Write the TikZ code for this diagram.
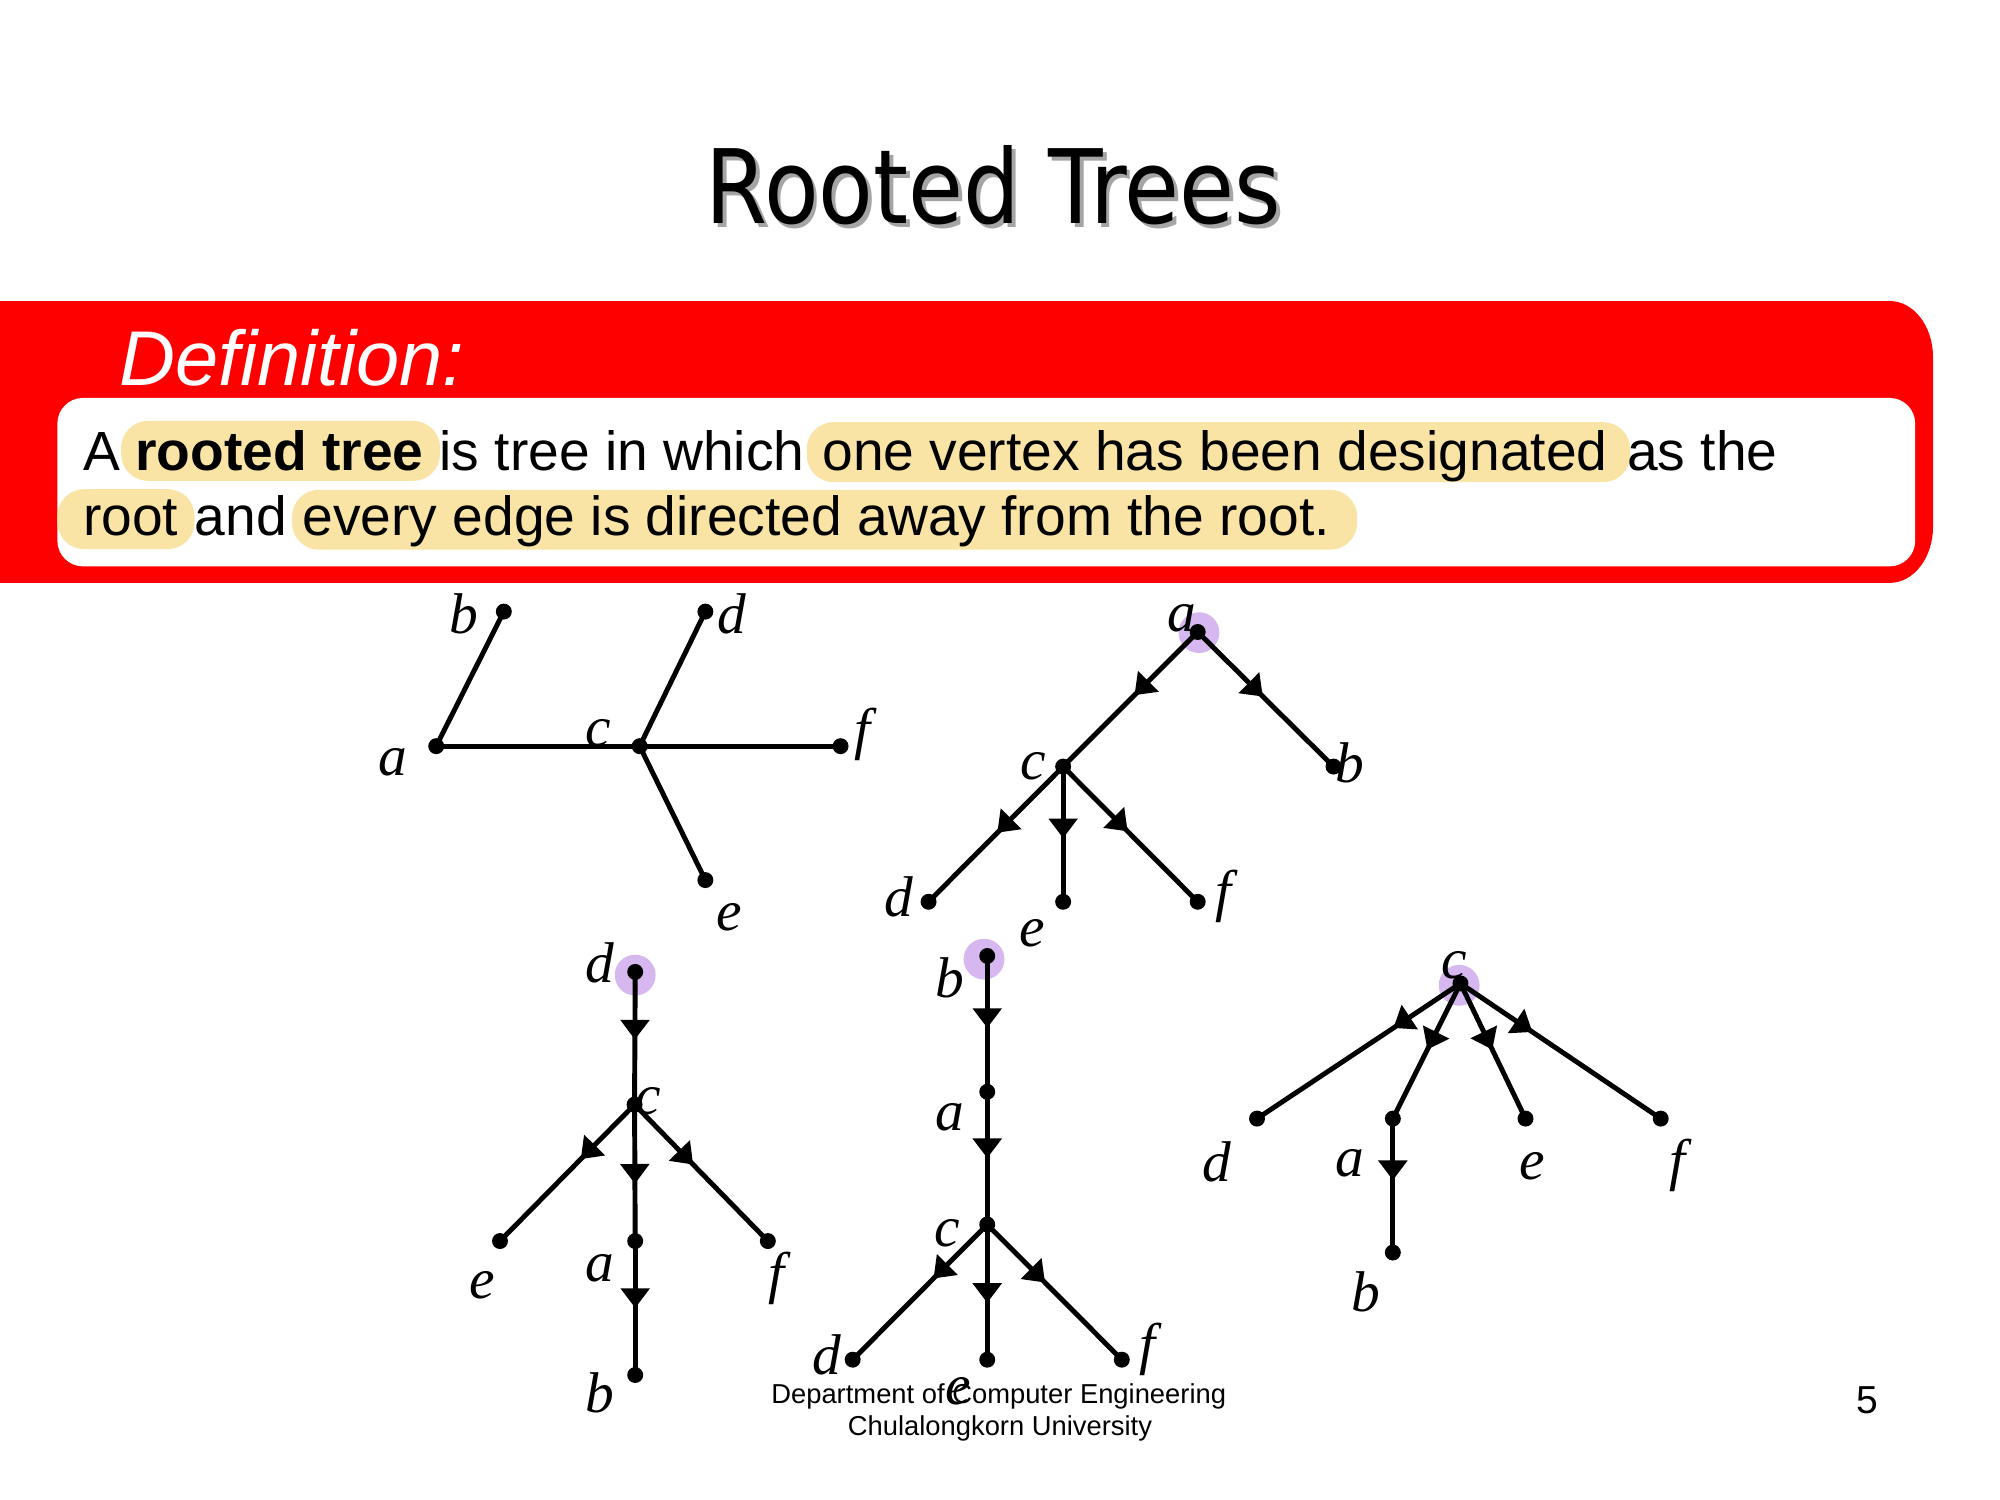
\documentclass[tikz,border=0pt]{standalone}
\usepackage{fontspec}
\setmainfont{Liberation Sans}
\newfontfamily\titlefont[FakeStretch=0.87]{DejaVu Sans}
\newfontfamily\labelfont{Liberation Serif}
\usetikzlibrary{arrows.meta,decorations.markings}
\definecolor{slidered}{RGB}{255,0,0}
\definecolor{pill}{RGB}{249,228,166}
\definecolor{rootmark}{RGB}{214,183,239}
\definecolor{titleshade}{RGB}{165,165,165}

\begin{document}
\begin{tikzpicture}[x=0.01cm,y=-0.01cm,
  vtx/.style={circle,fill=black,inner sep=0pt,minimum size=0.125cm},
  rootring/.style={circle,fill=rootmark,inner sep=0pt,minimum size=0.32cm},
  lbl/.style={font=\labelfont\itshape\fontsize{12.8}{14}\selectfont,inner sep=0pt},
  link/.style={line width=1.1pt},
  darr/.style={link,postaction={decorate},
    decoration={markings,mark=at position #1 with {\arrow{Triangle[length=4.4pt,width=6.3pt]}}}},
  body/.style={font=\fontsize{12.3}{14}\selectfont,inner sep=0pt,anchor=base west},
  hl/.style={fill=pill,rounded corners=0.21cm},
  foot/.style={font=\fontsize{6.1}{7}\selectfont,inner sep=0pt,anchor=base}
]
\useasboundingbox (0,0) rectangle (1568,1176);

% title with drop shadow
\node[font=\titlefont\fontsize{22.9}{26}\selectfont,text=titleshade,inner sep=0pt,anchor=base]
  (titleshadow) at (782,178.6) {Rooted Trees};
\node[font=\titlefont\fontsize{22.9}{26}\selectfont,inner sep=0pt,anchor=base]
  (title) at (779,175.6) {Rooted Trees};

% definition banner
\fill[slidered] (-10,236) -- (1481.5,236)
  arc[start angle=-90,end angle=0,x radius=34,y radius=44]
  -- (1515.5,413)
  arc[start angle=0,end angle=90,x radius=34,y radius=44]
  -- (-10,457) -- cycle;
\node[font=\itshape\fontsize{17.3}{19}\selectfont,text=white,inner sep=0pt,anchor=base west]
  (deftitle) at (93,302.6) {Definition:};
\fill[white,rounded corners=0.2cm] (45,312) rectangle (1501.5,444);

% highlighted phrases
\fill[hl] (95,330) rectangle (345,377);
\fill[hl] (632.5,331) rectangle (1278,378);
\fill[hl] (45,383.5) rectangle (152.5,430.5);
\fill[hl] (229,384) rectangle (1064,431);

% definition text
\node[body] (t1) at (65,368.5) {A};
\node[body,font=\bfseries\fontsize{12.3}{14}\selectfont] (t2) at (105.5,368.5) {rooted tree};
\node[body] (t3) at (344,368.5) {is tree in which};
\node[body] (t4) at (644,368.5) {one vertex has been designated};
\node[body] (t5) at (1275,368.5) {as the};
\node[body] (t6) at (64.5,420) {root};
\node[body] (t7) at (152,420) {and};
\node[body] (t8) at (236.5,420) {every edge is directed away from the root.};

% root marks
\node[rootring] (r2) at (940,496) {};
\node[rootring] (r3) at (498,764.5) {};
\node[rootring] (r4) at (771.5,752) {};
\node[rootring] (r5) at (1144,772.5) {};

% tree 1: undirected
\node[vtx] (a1) at (342,585) {};
\node[vtx] (b1) at (395,479.5) {};
\node[vtx] (c1) at (501.5,585) {};
\node[vtx] (d1) at (553,479.5) {};
\node[vtx] (e1) at (553,690) {};
\node[vtx] (f1) at (659,585) {};
\draw[link] (a1.center) -- (b1.center);
\draw[link] (a1.center) -- (c1.center);
\draw[link] (c1.center) -- (d1.center);
\draw[link] (c1.center) -- (f1.center);
\draw[link] (c1.center) -- (e1.center);
\node[lbl] (la1) at (308,598) {a};
\node[lbl] (lb1) at (364,481) {b};
\node[lbl] (lc1) at (469,575) {c};
\node[lbl] (ld1) at (574,481) {d};
\node[lbl] (le1) at (572,719) {e};
\node[lbl] (lf1) at (676,576) {f};

% tree 2: rooted at a
\node[vtx] (a2) at (939,495.5) {};
\node[vtx] (b2) at (1045.5,601) {};
\node[vtx] (c2) at (833.5,601) {};
\node[vtx] (d2) at (728,707) {};
\node[vtx] (e2) at (833.5,707) {};
\node[vtx] (f2) at (939,707) {};
\draw[darr=0.47] (a2.center) -- (c2.center);
\draw[darr=0.48] (a2.center) -- (b2.center);
\draw[darr=0.49] (c2.center) -- (d2.center);
\draw[darr=0.53] (c2.center) -- (e2.center);
\draw[darr=0.48] (c2.center) -- (f2.center);
\node[lbl] (la2) at (926.5,484.5) {a};
\node[lbl] (lb2) at (1058,598) {b};
\node[lbl] (lc2) at (810,601) {c};
\node[lbl] (ld2) at (705,703) {d};
\node[lbl] (le2) at (809,732) {e};
\node[lbl] (lf2) at (959,703) {f};

% tree 3: rooted at d
\node[vtx] (d3) at (498,762) {};
\node[vtx] (c3) at (497.5,866) {};
\node[vtx] (e3) at (392,973) {};
\node[vtx] (a3) at (498,973) {};
\node[vtx] (f3) at (602,973) {};
\node[vtx] (b3) at (498,1078) {};
\draw[darr=0.51] (d3.center) -- (c3.center);
\draw[darr=0.40] (c3.center) -- (e3.center);
\draw[darr=0.58] (c3.center) -- (a3.center);
\draw[darr=0.44] (c3.center) -- (f3.center);
\draw[darr=0.50] (a3.center) -- (b3.center);
\node[lbl] (ld3) at (470,755) {d};
\node[lbl] (lc3) at (508,863) {c};
\node[lbl] (le3) at (378,1008) {e};
\node[lbl] (la3) at (470,994) {a};
\node[lbl] (lf3) at (609,1002) {f};
\node[lbl] (lb3) at (470,1092) {b};

% tree 4: rooted at b
\node[vtx] (b4) at (774,749.5) {};
\node[vtx] (a4) at (774,856) {};
\node[vtx] (c4) at (774,960) {};
\node[vtx] (d4) at (668.5,1066) {};
\node[vtx] (e4) at (774,1066) {};
\node[vtx] (f4) at (879.5,1066) {};
\draw[darr=0.53] (b4.center) -- (a4.center);
\draw[darr=0.50] (a4.center) -- (c4.center);
\draw[darr=0.40] (c4.center) -- (d4.center);
\draw[darr=0.58] (c4.center) -- (e4.center);
\draw[darr=0.43] (c4.center) -- (f4.center);
\node[lbl] (lb4) at (745,767) {b};
\node[lbl] (la4) at (745,876) {a};
\node[lbl] (lc4) at (743,967) {c};
\node[lbl] (ld4) at (648,1062) {d};
\node[lbl] (lf4) at (900,1058) {f};

% tree 5: rooted at c
\node[vtx] (c5) at (1145,771) {};
\node[vtx] (d5) at (985.5,877) {};
\node[vtx] (a5) at (1092,877) {};
\node[vtx] (e5) at (1196,877) {};
\node[vtx] (f5) at (1302,877) {};
\node[vtx] (b5) at (1092,982) {};
\draw[darr=0.33] (c5.center) -- (d5.center);
\draw[darr=0.49] (c5.center) -- (a5.center);
\draw[darr=0.49] (c5.center) -- (e5.center);
\draw[darr=0.36] (c5.center) -- (f5.center);
\draw[darr=0.46] (a5.center) -- (b5.center);
\node[lbl] (lc5) at (1140,757) {c};
\node[lbl] (ld5) at (954,911) {d};
\node[lbl] (la5) at (1058,912) {a};
\node[lbl] (le5) at (1201,914) {e};
\node[lbl] (lf5) at (1315,914) {f};
\node[lbl] (lb5) at (1071,1013) {b};

% footer
\node[foot] (foot1) at (783,1100) {Department of Computer Engineering};
\node[foot] (foot2) at (784,1125.5) {Chulalongkorn University};
\node[lbl] (le4) at (751,1091) {e};
\node[font=\fontsize{8.7}{10}\selectfont,inner sep=0pt,anchor=base] (pageno) at (1464,1108) {5};
\end{tikzpicture}
\end{document}
